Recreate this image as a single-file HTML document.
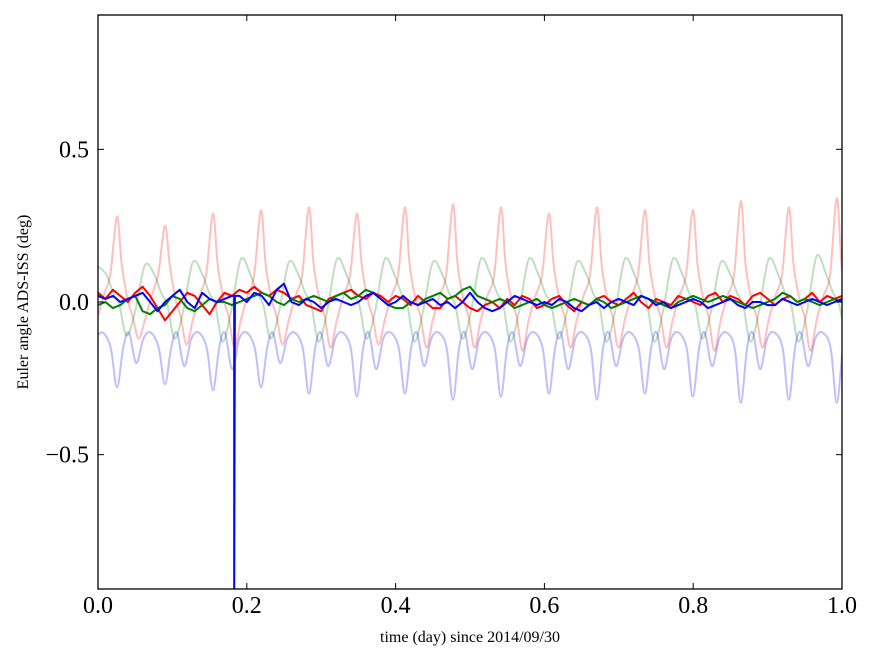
<!DOCTYPE html>
<html><head><meta charset="utf-8"><style>
body{margin:0;background:#fff;}
svg{display:block;font-family:"Liberation Serif",serif;}
</style></head><body>
<svg id="chart" width="875" height="662">
<rect x="98" y="15" width="744" height="574" fill="#fff"/>
<g id="series"></g>
<rect x="98" y="15" width="744" height="574" fill="none" stroke="#000" stroke-width="1.3"/>
<g id="ticks"></g>
<text x="470" y="642" text-anchor="middle" font-size="16">time (day) since 2014/09/30</text>
<text transform="translate(28,302) rotate(-90)" text-anchor="middle" font-size="16">Euler angle ADS-ISS (deg)</text>
</svg>
<script>
const xTicks=[0,0.2,0.4,0.6,0.8,1.0];
const xTickLabels=["0.0","0.2","0.4","0.6","0.8","1.0"];
const yTicks=[-0.5,0,0.5];
const yTickLabels=["\u22120.5","0.0","0.5"];
// faint periodic series: per-cycle extremes
const redPeaks=[0.28,0.25,0.29,0.30,0.31,0.29,0.31,0.32,0.31,0.29,0.31,0.30,0.30,0.33,0.31,0.34];
const redTroughs=[-0.12,-0.14,-0.15,-0.14,-0.15,-0.14,-0.15,-0.15,-0.16,-0.15,-0.15,-0.15,-0.16,-0.15,-0.16,-0.15];
const blueTroughs=[-0.28,-0.27,-0.29,-0.28,-0.30,-0.31,-0.30,-0.32,-0.31,-0.30,-0.32,-0.30,-0.31,-0.33,-0.32,-0.33];
const blueSecond=[-0.20,-0.21,-0.22,-0.20,-0.21,-0.22,-0.21,-0.22,-0.21,-0.22,-0.21,-0.22,-0.21,-0.22,-0.21,-0.22];
const greenPeaks=[0.12,0.13,0.14,0.13,0.14,0.14,0.13,0.14,0.14,0.13,0.14,0.14,0.13,0.14,0.15,0.15];
const greenTroughs=[-0.11,-0.12,-0.13,-0.12,-0.13,-0.12,-0.13,-0.12,-0.13,-0.12,-0.13,-0.13,-0.12,-0.13,-0.13,-0.13];
// dark noisy series sampled every 0.01 day
const redDark=[0.03,0.01,0.04,0.02,0.00,0.03,0.05,0.02,-0.02,-0.06,-0.03,0.00,0.03,0.02,-0.01,-0.04,0.00,0.03,0.02,0.04,0.03,0.05,0.03,0.02,0.04,0.03,0.01,0.02,-0.01,-0.02,-0.03,0.01,0.02,0.03,0.04,0.02,0.01,0.03,0.02,0.00,0.02,0.01,-0.01,0.02,0.00,-0.02,-0.02,0.01,0.02,0.00,-0.02,-0.03,-0.01,0.00,-0.02,0.01,-0.01,0.02,0.01,-0.02,-0.01,0.01,0.02,-0.01,-0.03,0.00,-0.01,0.01,0.02,0.00,-0.01,0.01,0.03,0.00,-0.02,0.01,0.00,-0.01,0.02,0.01,0.00,-0.01,0.02,0.03,0.00,0.02,0.01,-0.01,0.02,0.03,0.01,-0.01,0.01,0.02,0.00,0.01,0.03,0.00,0.02,0.01,0.02];
const greenDark=[-0.01,0.00,-0.02,-0.01,0.01,0.02,-0.03,-0.04,-0.02,-0.01,0.02,0.01,-0.02,-0.03,-0.01,0.01,0.00,0.00,-0.01,0.00,0.01,0.02,0.03,0.02,0.00,-0.01,0.01,0.00,0.01,0.02,0.01,0.00,0.02,0.03,0.01,0.02,0.04,0.03,0.01,-0.01,-0.02,-0.02,0.00,-0.01,0.01,0.02,0.03,0.01,0.02,0.04,0.05,0.02,0.01,0.00,0.01,0.00,-0.02,-0.01,0.00,0.01,-0.01,-0.02,-0.01,0.00,0.01,0.00,-0.01,0.01,0.00,-0.02,-0.01,0.00,0.01,0.02,0.01,0.00,-0.01,-0.02,0.00,0.01,0.02,0.01,0.00,0.01,0.02,0.01,0.00,-0.01,-0.02,-0.01,0.00,0.01,0.03,0.02,0.00,0.01,0.00,-0.01,0.00,0.01,0.00];
const blueDark=[0.02,0.01,0.02,0.00,0.01,0.02,0.03,0.00,-0.03,0.00,0.02,0.04,0.00,-0.02,0.03,0.01,0.00,0.01,0.02,0.02,0.00,0.03,0.02,-0.01,0.04,0.06,0.00,-0.01,0.01,0.00,-0.02,0.00,0.01,0.00,-0.01,0.00,0.02,0.03,0.01,-0.01,0.00,0.02,0.00,-0.01,0.00,0.01,-0.01,0.00,-0.02,0.00,0.03,0.00,-0.02,-0.03,-0.02,0.00,0.02,0.01,0.00,-0.01,0.00,-0.01,0.01,0.00,-0.02,-0.03,-0.01,0.00,-0.02,0.00,0.01,0.00,-0.01,0.02,0.01,-0.01,0.00,-0.02,-0.01,0.00,0.01,0.00,-0.02,-0.01,0.00,0.01,-0.01,-0.02,0.00,0.00,-0.01,-0.01,0.01,0.00,-0.01,0.00,0.01,0.00,-0.01,0.00,0.01];
const spikeT=0.183, spikeV=-0.95;
const period=0.0645, firstPeak=0.0255;

const X0=98,X1=842,Y0=15,Y1=589,YMIN=-0.94,YMAX=0.94;
const sx=t=>X0+(t-0)/(1-0)*(X1-X0);
const sy=v=>Y1-(v-YMIN)/(YMAX-YMIN)*(Y1-Y0);
const NS="http://www.w3.org/2000/svg";
const g=document.getElementById('series'), tk=document.getElementById('ticks');

function cyc(arr,i){return arr[Math.max(0,Math.min(arr.length-1,i))];}
function faint(knotsFn){
  const pts=[];
  for(let c=-1;c<=16;c++){
    knotsFn(c).forEach(([ph,v])=>{const t=firstPeak+(c+ph)*period; if(t>=-0.01&&t<=1.01)pts.push([t,v]);});
  }
  return pts;
}
const redF=faint(c=>[[0,cyc(redPeaks,c)],[0.1,0.12],[0.22,0.01],[0.33,-0.05],[0.45,cyc(redTroughs,c)],[0.58,-0.06],[0.72,0.02],[0.86,0.09]]);
const blueF=faint(c=>[[0,cyc(blueTroughs,c)],[0.13,-0.15],[0.25,-0.10],[0.4,cyc(blueSecond,c)],[0.55,-0.12],[0.7,-0.10],[0.87,-0.15]]);
const greenF=faint(c=>[[0.05,-0.01],[0.2,cyc(greenTroughs,c)],[0.38,-0.03],[0.58,cyc(greenPeaks,c)],[0.78,0.09],[0.92,0.03]]);

function dPath(pts,smooth){
  const P=pts.map(q=>[sx(q[0]),sy(q[1])]);
  if(!smooth) return P.map((q,i)=>(i?'L':'M')+q[0].toFixed(1)+','+q[1].toFixed(1)).join('');
  let d='M'+P[0][0].toFixed(1)+','+P[0][1].toFixed(1);
  for(let i=0;i<P.length-1;i++){
    const p0=P[Math.max(0,i-1)],p1=P[i],p2=P[i+1],p3=P[Math.min(P.length-1,i+2)];
    const c1=[p1[0]+(p2[0]-p0[0])/6,p1[1]+(p2[1]-p0[1])/6];
    const c2=[p2[0]-(p3[0]-p1[0])/6,p2[1]-(p3[1]-p1[1])/6];
    d+='C'+c1.map(v=>v.toFixed(1))+' '+c2.map(v=>v.toFixed(1))+' '+p2.map(v=>v.toFixed(1));
  }
  return d;
}
function path(pts,color,w,op,name,smooth){
  const p=document.createElementNS(NS,'path');
  p.setAttribute('d',dPath(pts,smooth));
  p.setAttribute('fill','none');p.setAttribute('stroke',color);p.setAttribute('stroke-width',w);
  p.setAttribute('stroke-opacity',op);p.setAttribute('stroke-linejoin','round');
  
  
  g.appendChild(p);
}
const clip=document.createElementNS(NS,'clipPath');clip.setAttribute('id','pc');
const cr=document.createElementNS(NS,'rect');cr.setAttribute('x',X0);cr.setAttribute('y',Y0);cr.setAttribute('width',X1-X0);cr.setAttribute('height',Y1-Y0);
clip.appendChild(cr);document.getElementById('chart').appendChild(clip);
g.setAttribute('clip-path','url(#pc)');
path(redF,'#ff0000',2,0.25,'red-faint-line',true);
path(greenF,'#008000',2,0.25,'green-faint-line',true);
path(blueF,'#0000ff',2,0.25,'blue-faint-line',true);
const toPts=a=>a.map((v,i)=>[i/(a.length-1),v]);
path(toPts(redDark),'#ff0000',2,1,'red-line',false);
path(toPts(greenDark),'#008000',2,1,'green-line',false);
const bp=toPts(blueDark);
const si=bp.findIndex(p=>p[0]>spikeT);
bp.splice(si,0,[spikeT,bp[si-1][1]],[spikeT,spikeV],[spikeT+0.001,bp[si][1]]);
path(bp,'#0000ff',2,1,'blue-line',false);

xTicks.forEach((t,i)=>{
  const x=sx(t);
  [[Y1,Y1-6],[Y0,Y0+6]].forEach(([a,b])=>{const l=document.createElementNS(NS,'line');l.setAttribute('x1',x);l.setAttribute('x2',x);l.setAttribute('y1',a);l.setAttribute('y2',b);l.setAttribute('stroke','#000');
  
  
  tk.appendChild(l);});
  const tx=document.createElementNS(NS,'text');tx.setAttribute('x',x);tx.setAttribute('y',Y1+24);tx.setAttribute('text-anchor','middle');tx.setAttribute('font-size','24');tx.textContent=xTickLabels[i];
  
  
  tk.appendChild(tx);
});
yTicks.forEach((v,i)=>{
  const y=sy(v);
  [[X0,X0+6],[X1,X1-6]].forEach(([a,b])=>{const l=document.createElementNS(NS,'line');l.setAttribute('x1',a);l.setAttribute('x2',b);l.setAttribute('y1',y);l.setAttribute('y2',y);l.setAttribute('stroke','#000');
  
  
  tk.appendChild(l);});
  const tx=document.createElementNS(NS,'text');tx.setAttribute('x',X0-9);tx.setAttribute('y',y+8);tx.setAttribute('text-anchor','end');tx.setAttribute('font-size','24');tx.textContent=yTickLabels[i];
  
  
  tk.appendChild(tx);
});
</script>
</body></html>
